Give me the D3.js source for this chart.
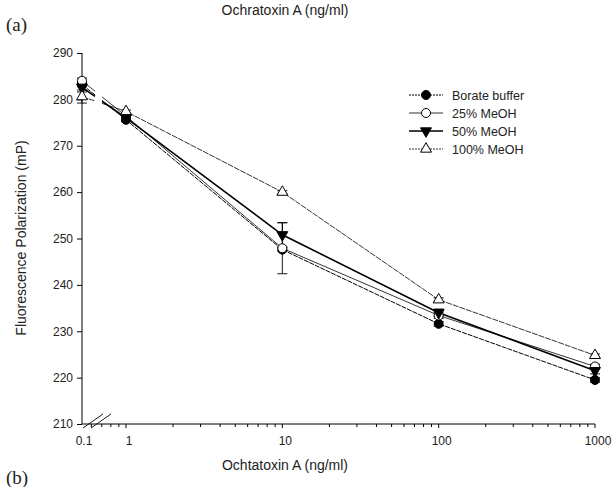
<!DOCTYPE html>
<html>
<head>
<meta charset="utf-8">
<script src="https://cdn.jsdelivr.net/npm/d3@7"></script>
<style>
  body { margin: 0; background: #fff; }
  text { font-family: Arial, "Liberation Sans", sans-serif; fill: #222; }
</style>
</head>
<body>
<script>
// chart data
var concentrations = [0.1, 1, 10, 100, 1000];
var borateBuffer = [283.2, 275.6, 247.6, 231.6, 219.5];
var meoh25 = [284.0, 276.4, 247.9, 233.4, 222.4];
var meoh50 = [282.6, 276.0, 250.8, 234.0, 221.5];
var meoh100 = [280.6, 277.4, 260.0, 236.8, 224.8];
var err25 = [0.6, 0.4, 5.5, 0.6, 0.5];
var err50 = [1.0, 0.5, 2.6, 0.8, 0.7];
var err100 = [1.4, 0.3, 0.3, 0.4, 0.3];
var errBorate = [0.5, 0.4, 0.4, 0.5, 0.5];
var seriesNames = ['Borate buffer', '25% MeOH', '50% MeOH', '100% MeOH'];
var yTicks = [210, 220, 230, 240, 250, 260, 270, 280, 290];
var xTicks = [1, 10, 100, 1000];

var width = 614, height = 487;

var svg = d3.select('body').append('svg')
  .attr('width', width)
  .attr('height', height);

// log scale for 1..1000, the 0.1 point sits at the broken left end
var x = d3.scaleLog().domain([1, 1000]).range([126, 595]);
var xLeft = 82;
var y = d3.scaleLinear().domain([210, 290]).range([424, 53]);

function xPos(v) { return v < 1 ? xLeft : x(v); }

// titles and panel letters
svg.append('text').attr('x', 285).attr('y', 15)
  .attr('text-anchor', 'middle').style('font-size', '14px')
  .text('Ochratoxin A (ng/ml)');
svg.append('text').attr('x', 6).attr('y', 31)
  .style('font-family', '"Liberation Serif", "DejaVu Serif", serif').style('font-size', '19px')
  .text('(a)');
svg.append('text').attr('x', 6).attr('y', 484)
  .style('font-family', '"Liberation Serif", "DejaVu Serif", serif').style('font-size', '19px')
  .text('(b)');
svg.append('text').attr('x', 285).attr('y', 470)
  .attr('text-anchor', 'middle').style('font-size', '14px')
  .text('Ochtatoxin A (ng/ml)');
svg.append('text')
  .attr('transform', 'translate(26,238) rotate(-90)')
  .attr('text-anchor', 'middle').style('font-size', '14px')
  .text('Fluorescence Polarization (mP)');

// y axis
var yAxis = d3.axisLeft(y).tickValues(yTicks).tickSize(5).tickPadding(4);
var gy = svg.append('g').attr('transform', 'translate(' + xLeft + ',0)').call(yAxis);
gy.select('.domain').attr('d', 'M0,' + y(290) + 'V' + y(210));
gy.selectAll('text').style('font-size', '12px');

// x axis
var minorTicks = [0.6, 0.7, 0.8, 0.9];
[1, 10, 100].forEach(function(d) {
  for (var k = 2; k <= 9; k++) minorTicks.push(d * k);
});
var gx = svg.append('g').attr('transform', 'translate(0,' + y(210) + ')');
gx.append('line').attr('x1', xLeft).attr('x2', x(1000)).attr('stroke', '#000');
gx.selectAll('.minor').data(minorTicks).enter().append('line')
  .attr('x1', function(d) { return x(d); }).attr('x2', function(d) { return x(d); })
  .attr('y1', 0).attr('y2', 3).attr('stroke', '#000');
gx.selectAll('.major').data(xTicks).enter().append('line')
  .attr('x1', function(d) { return x(d); }).attr('x2', function(d) { return x(d); })
  .attr('y1', 0).attr('y2', 4).attr('stroke', '#000');
gx.selectAll('.lbl').data([0.1].concat(xTicks)).enter().append('text')
  .attr('x', function(d) { return xPos(d) + (d === 0.1 ? 2 : 3); })
  .attr('y', 21).attr('text-anchor', 'middle').style('font-size', '12px')
  .text(function(d) { return d; });

// axis break marks
[0, 8].forEach(function(o) {
  svg.append('line')
    .attr('x1', 83 + o).attr('y1', 428).attr('x2', 103 + o).attr('y2', 414)
    .attr('stroke', '#000').attr('stroke-width', 0.9);
});

var series = [
  { name: seriesNames[0], values: borateBuffer, err: errBorate, marker: 'circle', fill: '#000', dash: '5,1', lw: 1 },
  { name: seriesNames[1], values: meoh25, err: err25, marker: 'circle', fill: '#fff', dash: null, lw: 0.8 },
  { name: seriesNames[2], values: meoh50, err: err50, marker: 'triangleDown', fill: '#000', dash: null, lw: 1.6 },
  { name: seriesNames[3], values: meoh100, err: err100, marker: 'triangle', fill: '#fff', dash: '6,1', lw: 0.8 }
];

function drawMarker(g, type, fill, cx, cy) {
  if (type === 'circle') {
    g.append('circle').attr('cx', cx).attr('cy', cy).attr('r', 4.5)
      .attr('fill', fill).attr('stroke', '#000').attr('stroke-width', 1);
  } else {
    var sym = d3.symbol().type(d3.symbolTriangle).size(52);
    g.append('path').attr('d', sym())
      .attr('transform', 'translate(' + cx + ',' + cy + ')' + (type === 'triangleDown' ? ' rotate(180)' : ''))
      .attr('fill', fill).attr('stroke', '#000').attr('stroke-width', 1);
  }
}

var plot = svg.append('g');

series.forEach(function(s) {
  var pts = concentrations.map(function(c, i) { return [xPos(c), y(s.values[i])]; });
  // first segment is interrupted at the axis break
  var a = pts[0], b = pts[1];
  function at(px) { var t = (px - a[0]) / (b[0] - a[0]); return [px, a[1] + t * (b[1] - a[1])]; }
  var p1 = at(95), p2 = at(102);
  var segs = [[a, p1], [p2].concat(pts.slice(1))];
  segs.forEach(function(seg) {
    plot.append('path').attr('d', d3.line()(seg))
      .attr('fill', 'none').attr('stroke', '#000')
      .attr('stroke-width', s.lw)
      .attr('stroke-dasharray', s.dash);
  });
});

// error bars
series.forEach(function(s) {
  concentrations.forEach(function(c, i) {
    var cx = xPos(c), y0 = y(s.values[i] - s.err[i]), y1 = y(s.values[i] + s.err[i]);
    plot.append('line').attr('x1', cx).attr('x2', cx).attr('y1', y0).attr('y2', y1)
      .attr('stroke', '#000').attr('stroke-width', 0.9);
    [y0, y1].forEach(function(yy) {
      plot.append('line').attr('x1', cx - 5).attr('x2', cx + 5).attr('y1', yy).attr('y2', yy)
        .attr('stroke', '#000').attr('stroke-width', 0.9);
    });
  });
});

// markers
series.forEach(function(s) {
  concentrations.forEach(function(c, i) {
    drawMarker(plot, s.marker, s.fill, xPos(c), y(s.values[i]));
  });
});

// legend
var legend = svg.append('g').attr('transform', 'translate(409,95)');
series.forEach(function(s, i) {
  var g = legend.append('g').attr('transform', 'translate(0,' + (i * 18) + ')');
  g.append('line').attr('x1', 0).attr('x2', 34).attr('y1', 0).attr('y2', 0)
    .attr('stroke', '#000').attr('stroke-width', s.lw).attr('stroke-dasharray', s.dash ? '2,1' : null);
  drawMarker(g, s.marker, s.fill, 17, 0);
  g.append('text').attr('x', 43).attr('y', 4.5).style('font-size', '12.5px').text(s.name);
});
</script>
</body>
</html>
